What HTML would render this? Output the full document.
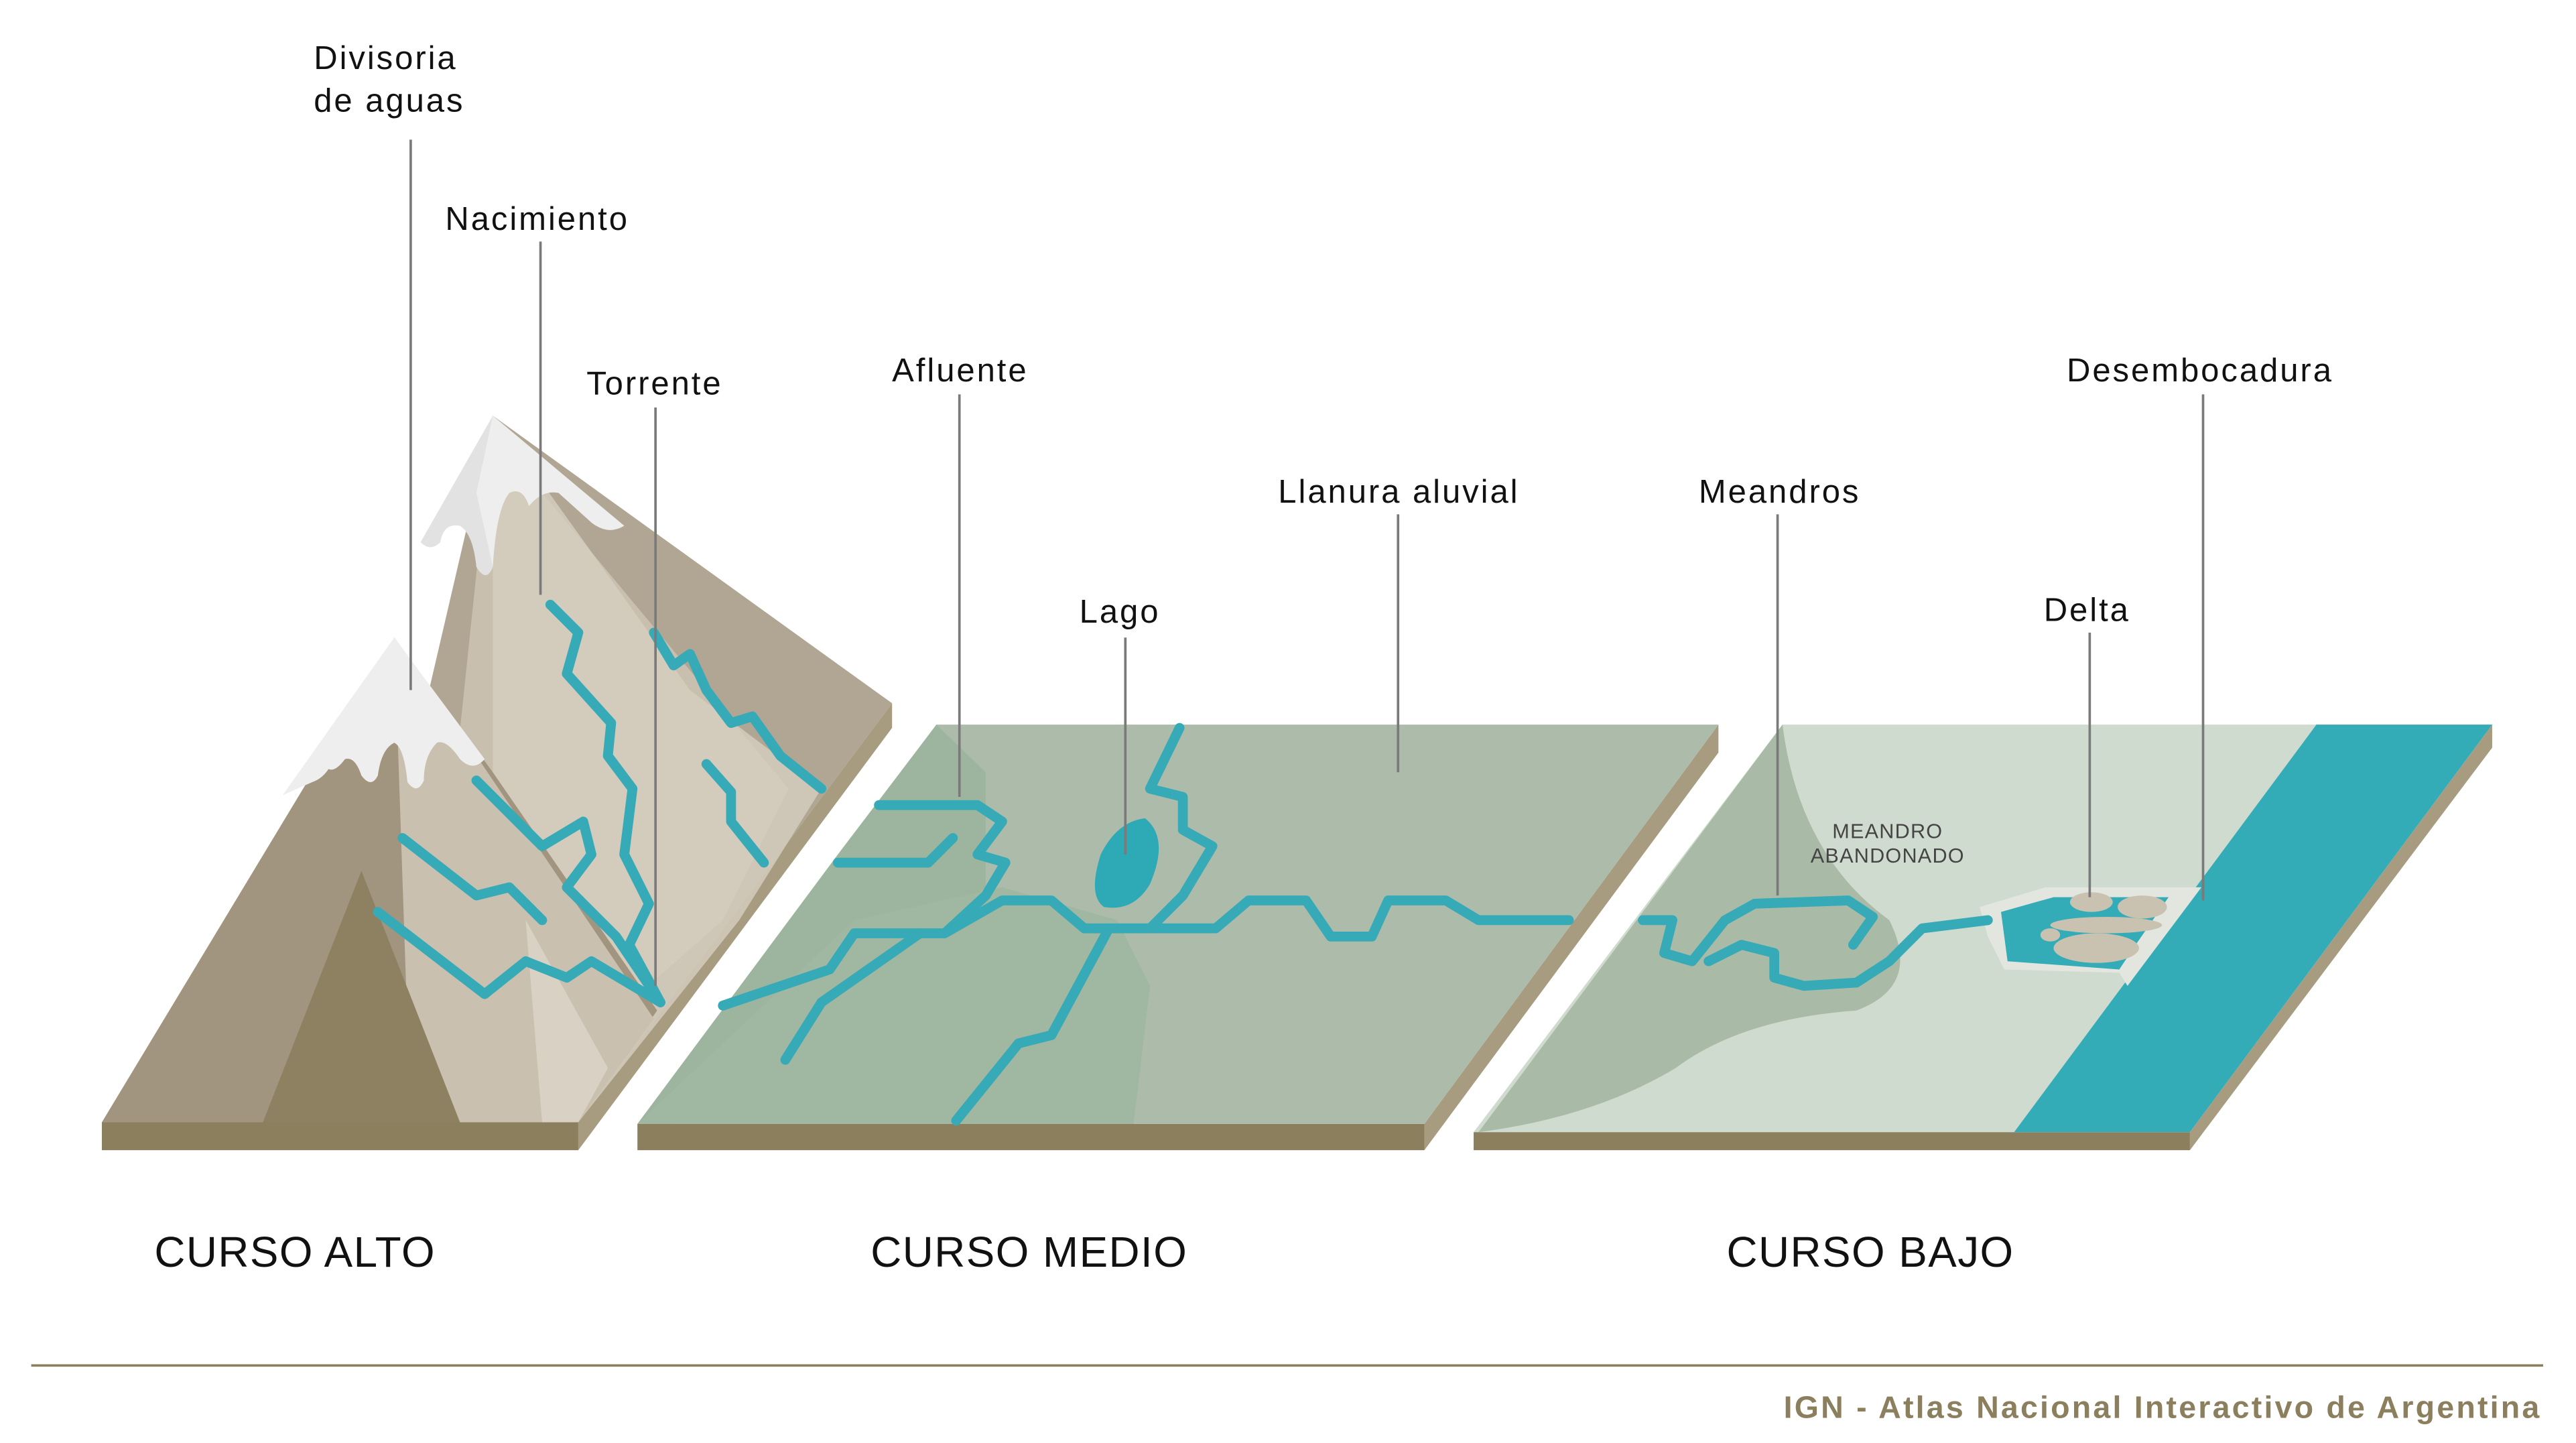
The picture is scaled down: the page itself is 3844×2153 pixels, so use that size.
<!DOCTYPE html>
<html><head><meta charset="utf-8"><style>
html,body{margin:0;padding:0;background:#fff;}
svg{display:block;}
text{font-family:"Liberation Sans",sans-serif;}
</style></head><body>
<svg width="3844" height="2153" viewBox="0 0 1568 878.2" preserveAspectRatio="none" xmlns="http://www.w3.org/2000/svg">
<rect width="1568" height="878.2" fill="#fff"/>
<polygon points="352,683 543,428 543,443 352,700" fill="#a89c80"/>
<rect x="62" y="683" width="290" height="17" fill="#8c7f5e"/>
<polygon points="300,253 543,428 352,683 200,683" fill="#b1a693"/>
<polygon points="300,253 330,300 480,480 440,560 300,683 255,683" fill="#c8bfae"/>
<polygon points="300,253 320,280 420,420 500,480 450,560 352,683 330,683 300,470" fill="#d6cebf" opacity="0.8"/>
<polygon points="240,388 62,683 352,683 400,615 300,470" fill="#a2957f"/>
<polygon points="240,388 250,683 352,683 398,620 290,460" fill="#c9c0af"/>
<polygon points="220,530 160,683 280,683" fill="#8e8162"/>
<polygon points="320,560 330,683 352,683 370,650" fill="#d9d2c4"/>
<path d="M300,253 L380,320 Q370,326 360,318 L340,300 Q330,298 322,308 Q318,296 310,300 Q302,310 300,345 Q296,355 290,345 Q288,325 280,320 Q270,318 268,330 Q262,336 256,330 Z" fill="#eeeeee"/>
<path d="M300,253 L290,300 L300,345 Q296,355 290,345 Q288,325 280,320 Q270,318 268,330 Q262,336 256,330 Z" fill="#e2e2e2"/>
<path d="M240,388 L295,462 Q288,470 280,462 Q272,450 266,452 Q258,460 258,475 Q254,484 248,476 Q246,455 240,452 Q232,456 230,472 Q226,480 220,472 Q216,460 210,462 Q204,470 200,468 Q196,474 190,476 L172,484 Z" fill="#eeeeee"/>
<g fill="none" stroke="#37aab7" stroke-width="6" stroke-linecap="round" stroke-linejoin="round">
<path d="M335,368 L352,385 L345,410 L372,440 L370,460 L385,480 L380,520 L395,550 L383,575 L402,610"/>
<path d="M398,385 L410,405 L420,398 L430,420 L445,440 L458,436 L475,460 L500,480"/>
<path d="M430,465 L445,482 L445,500 L465,525"/>
<path d="M290,475 L330,515 L355,500 L360,520 L345,540 L375,570 L402,610"/>
<path d="M245,510 L290,545 L310,540 L330,560"/>
<path d="M230,555 L295,605 L320,585 L345,595 L360,585 L402,610"/>
</g>
<polygon points="867,684 1046,441 1046,458 867,700" fill="#a89c80"/>
<rect x="388" y="684" width="479" height="16" fill="#8c7f5e"/>
<polygon points="570,441 1046,441 867,684 388,684" fill="#adbcaa"/>
<polygon points="570,441 600,470 600,540 520,610 410,684 388,684 510,520" fill="#9db59f"/>
<polygon points="388,684 520,560 610,540 680,560 700,600 690,684" fill="#a0b7a2"/>
<g fill="none" stroke="#37aab7" stroke-width="6" stroke-linecap="round" stroke-linejoin="round">
<path d="M535,490 L595,490 L610,500 L595,520 L612,525 L600,545 L575,568 L520,568 L505,590 L440,612"/>
<path d="M510,525 L565,525 L580,510"/>
<path d="M560,568 L500,610 L478,645"/>
<path d="M575,568 L610,548 L640,548 L660,565 L740,565 L760,548 L795,548 L810,570 L835,570 L845,548 L880,548 L900,560 L955,560"/>
<path d="M718,443 L700,480 L720,485 L720,505 L738,515 L720,545 L700,565"/>
<path d="M675,565 L640,630 L620,635 L582,682"/>
</g>
<path d="M697,498 Q712,510 700,538 Q690,555 672,552 Q662,545 670,520 Q680,500 697,498 Z" fill="#2ea9b6"/>
<polygon points="1333,689 1517,441 1517,455 1333,700" fill="#a89c80"/>
<rect x="897" y="689" width="436" height="11" fill="#8c7f5e"/>
<polygon points="1085,441 1517,441 1333,689 897,689" fill="#cfdbcf"/>
<path d="M1085,441 Q1095,520 1150,560 Q1170,600 1130,615 Q1060,620 1020,650 Q970,680 900,689 Z" fill="#a9bba6"/>
<polygon points="1410,441 1517,441 1333,689 1226,689" fill="#34acb8"/>
<polygon points="1205,552 1245,540 1340,540 1310,580 1295,600 1290,592 1220,590 1210,570" fill="#e3e6df"/>
<polygon points="1218,555 1250,546 1320,546 1300,575 1290,590 1222,585" fill="#34acb8"/>
<g fill="#c9c2b1">
<ellipse cx="1273" cy="549" rx="13" ry="6"/><ellipse cx="1304" cy="552" rx="15" ry="7"/>
<ellipse cx="1282" cy="563" rx="34" ry="5"/><ellipse cx="1276" cy="577" rx="26" ry="9"/>
<ellipse cx="1248" cy="569" rx="6" ry="4"/>
</g>
<g fill="none" stroke="#37aab7" stroke-width="6" stroke-linecap="round" stroke-linejoin="round">
<path d="M1000,560 L1018,560 L1013,580 L1030,585 L1050,560 L1068,550 L1125,548 L1140,558 L1128,575"/>
<path d="M1040,585 L1060,575 L1080,580 L1080,595 L1098,600 L1130,598 L1150,585 L1170,565 L1210,560"/>
</g>
<text x="1149" y="510" font-size="12.5" fill="#444" text-anchor="middle" letter-spacing="0.5">MEANDRO</text>
<text x="1149" y="525" font-size="12.5" fill="#444" text-anchor="middle" letter-spacing="0.5">ABANDONADO</text>
<g stroke="#7a7a7a" stroke-width="1.5">
<line x1="250" y1="85" x2="250" y2="420"/>
<line x1="329" y1="147" x2="329" y2="362"/>
<line x1="399" y1="248" x2="399" y2="600"/>
<line x1="584" y1="240" x2="584" y2="485"/>
<line x1="685" y1="388" x2="685" y2="520"/>
<line x1="851" y1="313" x2="851" y2="470"/>
<line x1="1082" y1="313" x2="1082" y2="545"/>
<line x1="1272" y1="385" x2="1272" y2="546"/>
<line x1="1341" y1="240" x2="1341" y2="548"/>
</g>
<g font-size="20" fill="#111" letter-spacing="1.2">
<text x="191" y="42">Divisoria</text>
<text x="191" y="68">de aguas</text>
<text x="271" y="140">Nacimiento</text>
<text x="357" y="240">Torrente</text>
<text x="543" y="232">Afluente</text>
<text x="657" y="379">Lago</text>
<text x="778" y="306">Llanura aluvial</text>
<text x="1034" y="306">Meandros</text>
<text x="1244" y="378">Delta</text>
<text x="1258" y="232">Desembocadura</text>
</g>
<g font-size="26" fill="#111" letter-spacing="0.6">
<text x="94" y="771">CURSO ALTO</text>
<text x="530" y="771">CURSO MEDIO</text>
<text x="1051" y="771">CURSO BAJO</text>
</g>
<line x1="19" y1="831" x2="1548" y2="831" stroke="#8c7f5e" stroke-width="1.5"/>
<text x="1547" y="863" font-size="19" font-weight="bold" fill="#8c7f5e" text-anchor="end" letter-spacing="1.3">IGN - Atlas Nacional Interactivo de Argentina</text>
</svg>
</body></html>
